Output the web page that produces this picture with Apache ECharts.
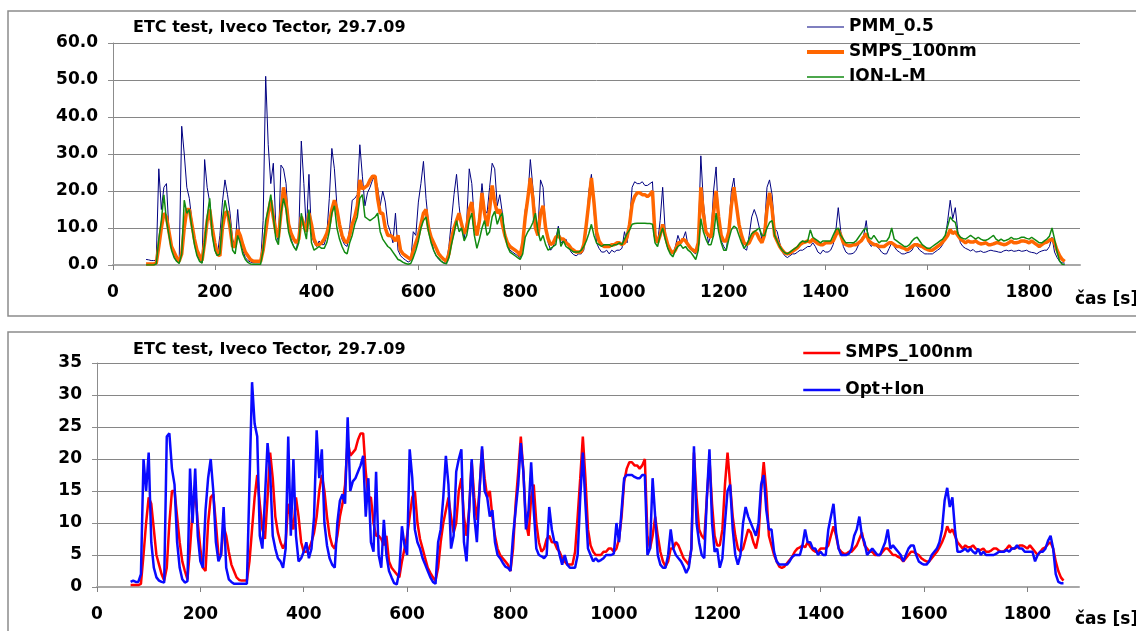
<!DOCTYPE html>
<html><head><meta charset="utf-8">
<script src="https://cdn.jsdelivr.net/npm/echarts@6/dist/echarts.min.js"></script>
<style>html,body{margin:0;padding:0;background:#fff}#c{width:1136px;height:631px}</style>
</head><body><div id="c"></div>
<script>
// sampling grid of the recorded series (seconds)
const T_START = 65, T_STEP = 5;
const TITLE = 'ETC test, Iveco Tector, 29.7.09';
const X_LABEL = 'čas [s]';
const X_MIN = 0, X_MAX = 1900, X_INTERVAL = 200;
const Y1_MAX = 60, Y1_INTERVAL = 10;
const Y2_MAX = 35, Y2_INTERVAL = 5;

const PMM = [
1.5,1.4,1.2,1.2,1.3,26,15,21,22,9,
5,2.5,1,0.8,37.5,30,21,18,12,7,
3,1.5,0.6,28.5,21,17,10,4,2.5,8,
17,23,19,14,7,5,15,6,4,2,
1.2,0.8,0.6,0.6,0.6,0.6,12,51,32.5,22,
27.5,10,6,27,26,22,11,7,5,4,
8,33.5,22,9,24.5,8,6,5,6.5,5.5,
5.5,8,18,31.5,26,16,10,7,5.5,5,
10,17.5,18,19,32.5,24,16,19.5,21,23,
24,21,16,20,17,11,9,6,14,4,
2.5,1.8,1.3,0.8,1.2,9,8,17,22,28,
18,11,7,4,2.5,1.5,1,0.6,0.5,5,
12,19,24.5,16,10,7,12,26,22,12,
8,14,22,15,14,21,27.5,26,16,19,
14,8,5.5,4,3.5,3,2.5,2,5,15,
18,28.5,21,13,10,23,21,10,6,4,
5,7,10.5,6,6.5,7,5,3.5,2.8,2.5,
3,3,4,10,20,24.5,15,6,4.5,3.5,
3.5,4,3,4,3.5,4,4,4.5,9,6,
12,21,22.5,22,22,22.5,21.5,21.5,22,22.5,
8,6,12,21,9,4.5,3.5,3,5,8,
6,7,9,5,4.5,3.5,3,7,29.5,17,
10,6,8,20,26.5,12,6.5,5,4,10,
20,23.5,16,11,7,4.5,4,8,13,15,
13,10,7,10,21,23,19,10,9,6,
3.5,2.5,2,2.5,3,3,3.5,4,4,4.5,
5,5,6,5,3.5,3,4,3.5,3.5,4,
5.5,9,15.5,9,5,3.5,3,3,3.2,4,
5.5,7,8,12,6,5,6,5,4.5,3.5,
3,3,4.5,6,5,4,3.5,3,3,3.3,
3.5,4,5.5,5,4,3.5,3,3,3,3,
3.5,4,4.5,5.5,7,12,17.5,12.5,15.5,9,
6,5,4.5,4.2,3.8,4.2,3.5,3.6,3.8,3.4,
3.5,3.8,4,3.8,3.7,3.5,3.4,3.8,4,3.8,
4,3.7,3.8,4,3.7,3.8,4,3.6,3.4,3.3,
3,3.5,3.8,4,4,5,7.5,3.5,2,1,
0.6,0.5
];

const SMPS = [
0.3,0.3,0.3,0.3,0.5,5,10,14,13,9,
5,3.5,2,1,3,10,15,15,11,7,
4,2.5,1.2,6,12,15,10,6,3,2.5,
10,14,14.5,10,5,5,9.5,8,5.5,3.5,
2.5,1.5,1.1,1,1,1,4,9,14,17.5,
13,9,7.5,14,21,17,11,8.5,7,6,
7,13,11,9,14,11,7,5.5,5.5,6,
7,8.5,11,15,17.5,15,11,8,6.5,6,
8,11,13,16,23,20.5,21,21.5,23,24,
24,18,14,14,10,8,8,7.5,6.5,8,
4,3,2.5,2,1.5,4,6,8,11,14,
15,10,7.5,6,4.5,3,2.2,1.5,1,3,
7,10,12,14,11,8.5,10,15,17,11,
8,12,19.5,14,10.5,15,21.5,17,14,15,
11,8,6,5,4.5,4,3.5,2.5,6,13,
18,23.5,18,10,8,14,16,10,7,5.5,
6,7.5,8,7,7,6,5.5,4.5,4,3.5,
3.5,3.5,5.5,11,17,23.5,17,9,6.5,5.5,
5,5,5,5.5,5.5,6,6,5.5,6,7.5,
11,16.5,18.5,19.5,19.5,19,19,18.5,19,20,
8,6,8,11,8,5.5,4,3.2,4,6,
6,7,6.5,5.5,4.5,4,3.5,6,21,14,
9,8,7.5,14,20,13,8,6.5,6.5,9,
16,21,16,11,8,6,5.5,6,7.5,9,
8.5,7,6,8,15,19.5,15,8,6.5,5,
4,3.2,3,3.2,3.7,4.2,4.7,5.5,6,6.2,
6.5,6.2,7,6.3,5.8,5.5,5.5,6,6,6,
6.5,8,9.5,8,6,5.5,5.2,5.2,5.5,5.5,
6,6.5,7.5,8.5,6.5,6,5.5,5.5,5,5,
5,5.5,6,6,5.5,5,5,4.7,4.5,4,
4.5,5,5.5,5.5,5.2,5,4.5,4.2,4,4,
4.5,5,5.5,6.2,7,8,9.5,8.5,9,8,
7,6.5,6,6.5,6.2,6.2,6.5,6,5.7,5.8,
6,5.5,5.5,5.7,6,6,5.7,5.5,5.6,6,
6.5,6,6,6.2,6.5,6.5,6.3,6,6.5,6,
5.5,5,5.5,6,6.2,6.7,7,6,4,2.5,
1.5,1
];

const ION = [
0,0,0,0,0.3,7,12,19,12,8,
4,2,1,0.4,3,17.5,14,15,10,5.5,
2.5,1,0.5,6,13,18,8,4,2.5,3,
12,17.5,14,11,4,3,8,6,3,1.5,
0.7,0.3,0.2,0.2,0.2,0.2,4,12,15,19,
13,7,5.5,14,18,15,9,6.5,5,4,
6,14,10,7,15,6,4,4.5,5,4.5,
4.5,6,9,14,16,10,7,5,3.5,3,
6,8,11,13,18,19,13,12.5,12,12.5,
13,14,9,7,6,5,4.5,3.5,2.5,1.5,
1.2,0.7,0.4,0.2,0.4,2,4,6.5,10,12,
13,9,6,4,2.5,1.8,1,0.5,0.3,2,
5.5,8.5,12,9,10,6.5,8,12,14,8,
4.5,7,10,12,8,9,13,14.5,11,13,
14,8,5,3.5,3,2.5,2,1.5,3,7.5,
9,10,11.5,14,9,6.5,8,5.5,4,4.5,
5,5.5,10,5,6.5,5,4.5,4,3.5,3.5,
3.5,4,5,6.5,8.5,11,8,6,5.5,5,
5.5,5.5,5.5,5,5.5,5.5,6,5.5,7,8.5,
9.5,11,11.2,11.3,11.3,11.3,11.3,11.2,11.2,11,
6,5,8,10,7,4.5,3,2.2,4,5,
5.5,4.5,5,4,3.5,2.5,1.5,4,12.5,9,
7,5.5,5.5,8,14,9,6,4,4,7,
9.5,10.5,10,8,6,4.5,5.5,7,8.5,9,
9.5,10,8,8,10,11.5,12,8,6.5,5,
4,3.3,3,3.5,4,4.5,5,6,6.5,6.2,
6.5,9.5,7.5,7,6.5,6,6.5,6.5,6.5,6.5,
8,9.5,10,8,7,6,6,6,6,6.5,
7.5,8.5,9.5,10,7.5,7,8,7,6,6.5,
6.5,6.5,7.5,10,7,6.5,6,5.5,5,5,
5.5,6.5,7.2,7.5,6.5,5.5,5,4.5,4.5,5,
5.5,6,6.5,7,8,10.5,13,12,11.5,8.5,
7.5,7.2,7,7.5,8,7.5,7,7.5,7,6.7,
6.7,7,7.5,8,7,6.5,7,6.5,6.7,7,
7.5,7,7,7.2,7.5,7.5,7.2,7,7.5,7,
6.5,6,6,6.5,7,7.8,10,7,3.5,1,
0.2,0.1
];

const OPT_ION = [
0.8,1,0.8,0.8,2,20,15,21,7,3,
1.5,1,0.8,0.7,23.5,24,18.5,16,7,3,
1.2,0.7,0.9,18.5,10,18.5,8,4,3,12,
17,20,15,7,4,5,12.5,3,1.2,0.8,
0.5,0.5,0.5,0.5,0.5,0.5,16,32,25.5,23.5,
8,6,14,22.5,18,8,6,4.5,4,3,
6,23.5,8,20,8,4,4.5,5.5,7,4.5,
6,11,24.5,17,21.5,10,6.5,4.5,3.5,3,
10,13.5,14.5,13,26.5,15,16.5,17,18,19,
20.5,11,17,7,5.5,18,5,3,10.5,5,
2.5,1.5,0.6,0.4,2.5,9.5,6.5,5,21.5,17,
9,7,6,4.5,3.5,2.5,1.5,0.8,0.5,7,
9,14,20.5,16,6,8,18,20,21.5,7,
4,12,20,11,7,15,22,15,14,11,
12,7,5,4.5,3.8,3.2,3,2.5,8,12,
16,22.5,18,9,12,19.5,12,6,5,4.8,
4.5,5,12.5,9,7,7,5,3.5,5,3.5,
3,3,3,5,14,21,13,6,5,4,
4.5,4,4.2,4.5,5,5,5,5.2,10,7,
12,17,17.5,17.5,17.5,17.2,17,17,17.5,17.5,
5,6,17,11,5,3.5,3,3,5,9,
6,5,4.5,4,3.2,2.2,3,6,22,10,
7,5,4.5,14,21.5,10,5.5,6,3,4.5,
10,15,16,9,5,3.5,5,10,12.5,11,
10,9,8,10,16,17.5,12,9,9,5.5,
4,3.5,3.5,3.5,3.5,4,4.7,5,5,5,
6.5,9,7,7,6,6,5,5.5,5,5,
9,11,13,8.5,6,5,5,5,5.2,6,
8,9,11,8,7,5,5.5,6,5.5,5,
5,6,7,9,6,6.5,6,5.5,5,4,
5,6,6.5,6.5,5,4,3.7,3.5,3.5,4,
5,5.5,6,7,9,13.5,15.5,12.5,14,9,
5.5,5.5,5.7,6,5.5,6,5.5,5.2,6,5,
5.5,5,5,5,5,5.2,5.5,5.5,5.5,5.8,
5.5,6,6,6.5,6,6,5.5,5.5,5.5,5.5,
4,5,5.5,5.5,6,7.2,8,6,2,0.8,
0.6,0.6
];

const TIME = PMM.map((_, i) => T_START + i * T_STEP);
const pairs = arr => arr.map((v, i) => [TIME[i], v]);

const FONT = 'DejaVu Sans';
const boldText = (size) => ({fontFamily: FONT, fontWeight: 'bold', fontSize: size, color: '#000'});

function xAxis(grid) {
  return {
    type: 'value', gridIndex: grid, min: X_MIN, max: X_MAX, interval: X_INTERVAL,
    axisLine: {lineStyle: {color: '#a8a8a8', width: 2}},
    axisTick: {show: true, length: 5, lineStyle: {color: '#808080'}},
    axisLabel: Object.assign(boldText(17), {margin: 19, showMaxLabel: false, formatter: v => String(v)}),
    splitLine: {show: false}
  };
}
function yAxis(grid, max, interval, fmt) {
  return {
    type: 'value', gridIndex: grid, min: 0, max: max, interval: interval,
    axisLine: {show: true, lineStyle: {color: '#8c8c8c', width: 1}},
    axisTick: {show: true, length: 5, lineStyle: {color: '#8c8c8c'}},
    axisLabel: Object.assign(boldText(17), {margin: 15, formatter: fmt}),
    splitLine: {show: true, lineStyle: {color: '#868686', width: 1}}
  };
}
function line(name, data, xi, color, width) {
  return {
    type: 'line', name: name, data: pairs(data), xAxisIndex: xi, yAxisIndex: xi,
    symbol: 'none', showSymbol: false, silent: true,
    lineStyle: {color: color, width: width}, itemStyle: {color: color},
    emphasis: {disabled: true}
  };
}
const legendItem = (name, width) => ({name: name, lineStyle: {width: width}, itemStyle: {opacity: 0}});

const chart = echarts.init(document.getElementById('c'), null, {renderer: 'canvas'});
chart.setOption({
  animation: false,
  backgroundColor: '#ffffff',
  title: [
    {text: TITLE, left: 133, top: 20, padding: 0, textStyle: boldText(16)},
    {text: TITLE, left: 133, top: 342, padding: 0, textStyle: boldText(16)}
  ],
  legend: [
    {data: [legendItem('PMM_0.5', 1.2), legendItem('SMPS_100nm', 4), legendItem('ION-L-M', 1.5)],
     orient: 'vertical', left: 805, top: 18, padding: 0,
     itemWidth: 37, itemHeight: 14, itemGap: 7, selectedMode: false,
     itemStyle: {opacity: 0},
     textStyle: Object.assign(boldText(17), {lineHeight: 18})},
    {data: [legendItem('SMPS_100nm#2', 2.5), legendItem('Opt+Ion', 2.5)],
     orient: 'vertical', left: 802, top: 344, padding: 0,
     itemWidth: 37, itemHeight: 14, itemGap: 19, selectedMode: false,
     itemStyle: {opacity: 0},
     formatter: n => n.split('#')[0],
     textStyle: Object.assign(boldText(17), {lineHeight: 18})}
  ],
  grid: [
    {left: 113, top: 43, width: 967, height: 222},
    {left: 97, top: 363, width: 982, height: 224}
  ],
  xAxis: [xAxis(0), xAxis(1)],
  yAxis: [
    yAxis(0, Y1_MAX, Y1_INTERVAL, v => v.toFixed(1)),
    yAxis(1, Y2_MAX, Y2_INTERVAL, v => String(v))
  ],
  graphic: [
    {type: 'rect', shape: {x: 8, y: 11, width: 1140, height: 305}, style: {fill: 'none', stroke: '#8c8c8c', lineWidth: 1.5}, silent: true},
    {type: 'rect', shape: {x: 8, y: 332, width: 1140, height: 320}, style: {fill: 'none', stroke: '#8c8c8c', lineWidth: 1.5}, silent: true},
    {type: 'text', x: 1075, y: 291, style: {text: X_LABEL, fontFamily: FONT, fontWeight: 'bold', fontSize: 17, fill: '#000', verticalAlign: 'top'}},
    {type: 'text', x: 1075, y: 611, style: {text: X_LABEL, fontFamily: FONT, fontWeight: 'bold', fontSize: 17, fill: '#000', verticalAlign: 'top'}}
  ],
  series: [
    line('PMM_0.5', PMM, 0, '#000080', 1),
    line('SMPS_100nm', SMPS, 0, '#ff6600', 3.5),
    line('ION-L-M', ION, 0, '#118a11', 1.5),
    line('SMPS_100nm#2', SMPS, 1, '#ff0000', 2.5),
    line('Opt+Ion', OPT_ION, 1, '#0a0aff', 2.5)
  ]
});
</script>
</body></html>
